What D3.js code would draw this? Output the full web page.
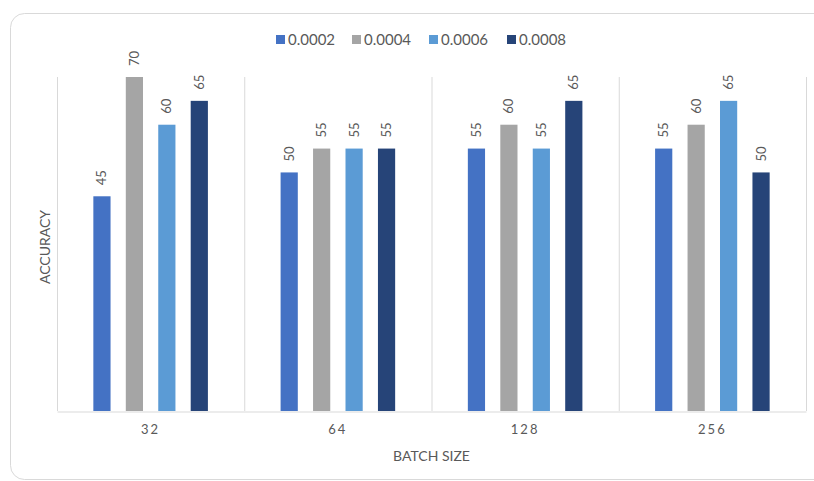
<!DOCTYPE html>
<html>
<head>
<meta charset="utf-8">
<script src="https://cdn.jsdelivr.net/npm/d3@7"></script>
<style>
  html, body { margin: 0; padding: 0; background: #fff; }
  svg { display: block; font-family: Lato, "Open Sans", "Liberation Sans", sans-serif; }
</style>
</head>
<body>
<svg id="chart" width="814" height="481"></svg>
<script>
// Batch sizes along the x axis and learning-rate series
const batchSizes = ["32", "64", "128", "256"];
const learningRates = ["0.0002", "0.0004", "0.0006", "0.0008"];
const acc0002 = [45, 50, 55, 55];
const acc0004 = [70, 55, 60, 60];
const acc0006 = [60, 55, 55, 65];
const acc0008 = [65, 55, 65, 50];
const seriesColors = ["#4472C4", "#A5A5A5", "#5B9BD5", "#264478"];

const seriesValues = [acc0002, acc0004, acc0006, acc0008];
const rows = batchSizes.map((b, i) => ({
  batch: b,
  values: learningRates.map((lr, j) => ({ lr, value: seriesValues[j][i] }))
}));

const svg = d3.select("#chart");
const textColor = "#595959";

// Outer rounded frame
svg.append("rect")
  .attr("x", 10.5).attr("y", 13.5)
  .attr("width", 818).attr("height", 466)
  .attr("rx", 14)
  .attr("fill", "#fff")
  .attr("stroke", "#d9d9d9")
  .attr("stroke-width", 1);

const plot = { left: 57, right: 806, top: 77, bottom: 411 };

const x0 = d3.scaleBand()
  .domain(batchSizes)
  .range([plot.left, plot.right])
  .paddingInner(0).paddingOuter(0);

const x1 = d3.scaleBand()
  .domain(learningRates)
  .range([0, x0.bandwidth()])
  .paddingInner(0.47)
  .paddingOuter(1.12);

const y = d3.scaleLinear().domain([0, 70]).range([plot.bottom, plot.top]);

// Category separators
const seps = batchSizes.map(b => x0(b)).concat([plot.right]);
svg.append("g").selectAll("line")
  .data(seps)
  .join("line")
  .attr("x1", d => d + 0.5).attr("x2", d => d + 0.5)
  .attr("y1", plot.top).attr("y2", plot.bottom)
  .attr("stroke", "#d9d9d9").attr("stroke-width", 1);

// Baseline axis
const xAxis = svg.append("g")
  .attr("transform", `translate(0,${plot.bottom + 0.5})`)
  .call(d3.axisBottom(x0).tickSize(0).tickPadding(13));
xAxis.select(".domain").attr("stroke", "#d9d9d9");
xAxis.selectAll("text")
  .attr("fill", textColor)
  .attr("font-size", 13)
  .attr("letter-spacing", "2px")
  .attr("font-family", "Lato, 'Open Sans', sans-serif");

// Bars
const groups = svg.append("g").selectAll("g")
  .data(rows)
  .join("g")
  .attr("transform", d => `translate(${x0(d.batch)},0)`);

groups.selectAll("rect")
  .data(d => d.values)
  .join("rect")
  .attr("x", d => x1(d.lr))
  .attr("y", d => y(d.value))
  .attr("width", x1.bandwidth())
  .attr("height", d => y(0) - y(d.value))
  .attr("fill", (d, i) => seriesColors[i]);

// Value labels, rotated above each bar
groups.selectAll("text")
  .data(d => d.values)
  .join("text")
  .attr("transform", d => `translate(${x1(d.lr) + x1.bandwidth() / 2 + 4.5},${y(d.value) - 11}) rotate(-90)`)
  .attr("text-anchor", "start")
  .attr("fill", textColor)
  .attr("font-size", 13)
  .text(d => d.value);

// Axis titles
svg.append("text")
  .attr("x", (plot.left + plot.right) / 2)
  .attr("y", 461)
  .attr("text-anchor", "middle")
  .attr("fill", textColor)
  .attr("font-size", 14)
  .text("BATCH SIZE");

svg.append("text")
  .attr("transform", `translate(50,${(plot.top + plot.bottom) / 2 + 3}) rotate(-90)`)
  .attr("text-anchor", "middle")
  .attr("fill", textColor)
  .attr("font-size", 14)
  .text("ACCURACY");

// Legend
const legendX = [276, 352, 429, 507];
const legend = svg.append("g").selectAll("g")
  .data(learningRates)
  .join("g")
  .attr("transform", (d, i) => `translate(${legendX[i]},35)`);
legend.append("rect")
  .attr("width", 9).attr("height", 9)
  .attr("fill", (d, i) => seriesColors[i]);
legend.append("text")
  .attr("x", 12).attr("y", 10)
  .attr("fill", textColor)
  .attr("font-size", 15)
  .text(d => d);
</script>
</body>
</html>
